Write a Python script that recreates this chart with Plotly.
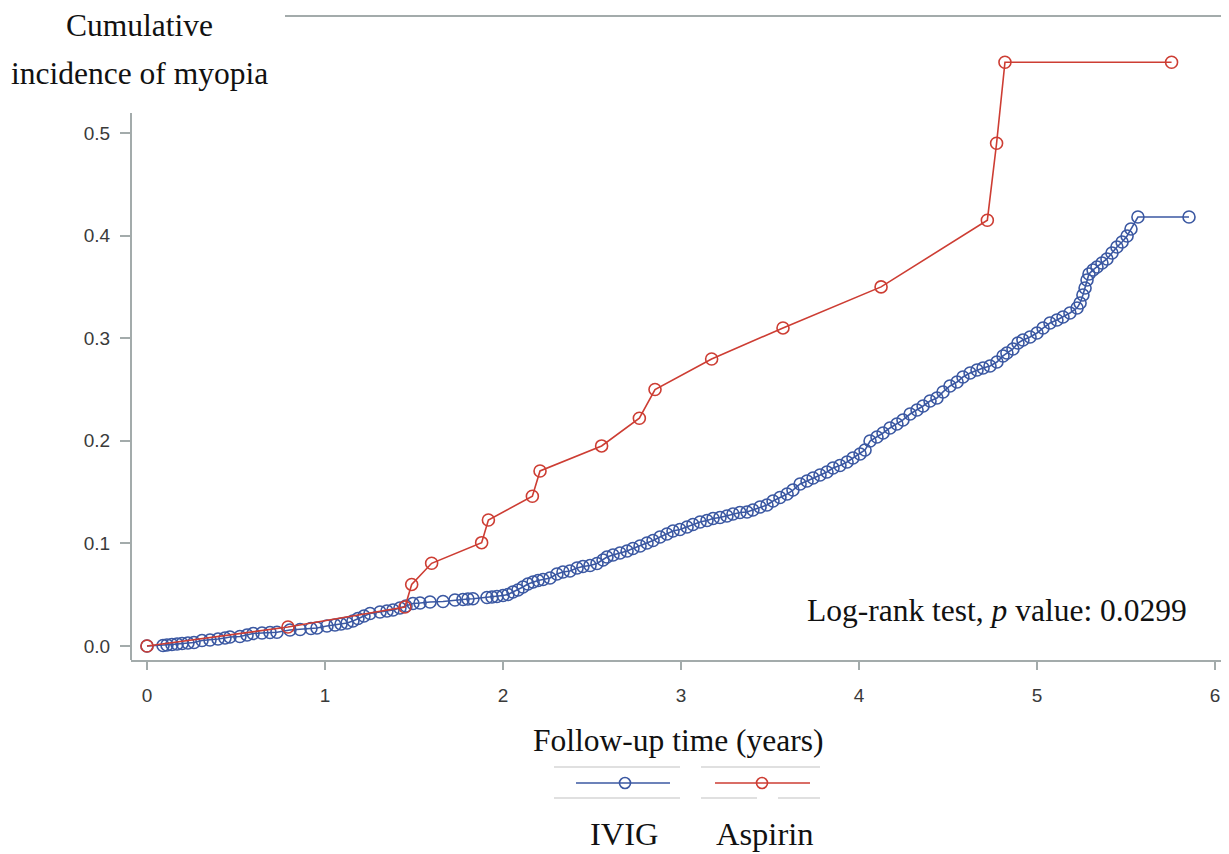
import plotly.graph_objects as go

# ---------------- data ----------------
ivig_time = [0.0, 0.090, 0.112, 0.140, 0.169, 0.197, 0.230, 0.264, 0.309, 0.354, 0.399,
             0.438, 0.466, 0.522, 0.562, 0.596, 0.646, 0.691, 0.730, 0.803, 0.860,
             0.921, 0.955, 1.011, 1.056, 1.090, 1.124, 1.157, 1.185, 1.219, 1.253,
             1.309, 1.348, 1.382, 1.421, 1.455, 1.494, 1.534, 1.590, 1.663, 1.730,
             1.775, 1.803, 1.831, 1.910, 1.938, 1.966, 2.000, 2.028, 2.056, 2.084,
             2.112, 2.140, 2.169, 2.197, 2.225, 2.264, 2.303, 2.337, 2.376, 2.416,
             2.449, 2.489, 2.528, 2.562, 2.584, 2.618, 2.657, 2.697, 2.730, 2.770,
             2.809, 2.843, 2.882, 2.921, 2.955, 2.994, 3.034, 3.067, 3.107, 3.146,
             3.180, 3.219, 3.258, 3.292, 3.331, 3.371, 3.404, 3.444, 3.483, 3.517,
             3.556, 3.596, 3.629, 3.669, 3.708, 3.742, 3.781, 3.820, 3.854, 3.893,
             3.933, 3.966, 4.006, 4.034, 4.062, 4.101, 4.135, 4.174, 4.213, 4.247,
             4.287, 4.326, 4.360, 4.399, 4.438, 4.472, 4.511, 4.551, 4.584, 4.624,
             4.663, 4.697, 4.736, 4.775, 4.809, 4.831, 4.865, 4.893, 4.921, 4.961,
             5.000, 5.034, 5.073, 5.112, 5.146, 5.185, 5.225, 5.242, 5.258, 5.270,
             5.281, 5.292, 5.315, 5.337, 5.365, 5.393, 5.421, 5.449, 5.478, 5.506,
             5.528, 5.567, 5.854]
ivig_cuminc = [0.0, 0.0005, 0.0010, 0.0015, 0.0019, 0.0024, 0.0029, 0.0034, 0.0054, 0.0058, 0.0068,
               0.0078, 0.0088, 0.0093, 0.0107, 0.0122, 0.0127, 0.0132, 0.0134, 0.0156, 0.0161,
               0.0171, 0.0175, 0.0195, 0.0205, 0.0214, 0.0224, 0.0244, 0.0268, 0.0292, 0.0317,
               0.0331, 0.0341, 0.0351, 0.0370, 0.0390, 0.0414, 0.0419, 0.0429, 0.0434, 0.0448,
               0.0453, 0.0458, 0.0460, 0.0473, 0.0478, 0.0482, 0.0492, 0.0502, 0.0526, 0.0546,
               0.0575, 0.0604, 0.0624, 0.0638, 0.0648, 0.0663, 0.0702, 0.0721, 0.0731, 0.0760,
               0.0775, 0.0785, 0.0804, 0.0838, 0.0867, 0.0887, 0.0906, 0.0926, 0.0950, 0.0975,
               0.1004, 0.1028, 0.1062, 0.1092, 0.1121, 0.1135, 0.1160, 0.1184, 0.1209, 0.1223,
               0.1243, 0.1252, 0.1267, 0.1287, 0.1301, 0.1306, 0.1326, 0.1355, 0.1374, 0.1413,
               0.1447, 0.1481, 0.1520, 0.1579, 0.1608, 0.1637, 0.1667, 0.1696, 0.1735, 0.1759,
               0.1793, 0.1832, 0.1871, 0.1910, 0.1998, 0.2037, 0.2076, 0.2125, 0.2164, 0.2203,
               0.2261, 0.2300, 0.2339, 0.2388, 0.2417, 0.2476, 0.2534, 0.2573, 0.2622, 0.2661,
               0.2690, 0.2710, 0.2729, 0.2768, 0.2827, 0.2856, 0.2895, 0.2953, 0.2982, 0.3012,
               0.3051, 0.3099, 0.3148, 0.3177, 0.3207, 0.3246, 0.3294, 0.3343, 0.3421, 0.3489,
               0.3567, 0.3626, 0.3665, 0.3694, 0.3733, 0.3772, 0.3830, 0.3889, 0.3938, 0.3996,
               0.4064, 0.4181, 0.4181]

aspirin_time = [0.0, 0.792, 1.449, 1.487, 1.599, 1.880, 1.918, 2.165, 2.208, 2.554,
                2.766, 2.854, 3.172, 3.573, 4.124, 4.721, 4.773, 4.820, 5.756]
aspirin_cuminc = [0.0, 0.0185, 0.038, 0.060, 0.0806, 0.1007, 0.1228, 0.146, 0.1706, 0.195,
                  0.222, 0.250, 0.2797, 0.310, 0.350, 0.415, 0.490, 0.569, 0.569]

x_ticks = [0, 1, 2, 3, 4, 5, 6]
y_ticks = [0.0, 0.1, 0.2, 0.3, 0.4, 0.5]
group_names = ["IVIG", "Aspirin"]

# ---------------- style / layout ----------------
BLUE = "#3b58a2"
RED = "#cd3d33"
AXIS = "#a3abab"
OFF = 8                       # browser body margin
W, H = 1229 - OFF, 854 - OFF  # figure size
# plot area in target-page pixels: x 131..1229, y 16..660
L, T = 131 - OFF, 16 - OFF
R = 0
B = H - (660 - OFF)
PW, PH = W - L - R, H - T - B


def P(px, py):
    """target page pixel -> paper coordinates"""
    fx, fy = px - OFF, py - OFF
    return (fx - L) / PW, (H - B - fy) / PH


fig = go.Figure()
for name, xs, ys, col in [(group_names[0], ivig_time, ivig_cuminc, BLUE),
                          (group_names[1], aspirin_time, aspirin_cuminc, RED)]:
    fig.add_trace(go.Scatter(
        x=xs, y=ys, name=name, mode="lines+markers",
        line=dict(color=col, width=1.6),
        marker=dict(symbol="circle-open", size=12, color=col, line=dict(width=1.6, color=col)),
        showlegend=False, cliponaxis=False))

# axis scale: x=0 at page px 147, x=6 at 1215 ; y=0 at page py 646, y=0.5 at 133
x0_px, x1_px = 147, 1215
y0_px, y5_px = 646, 133
xs_per = (x1_px - x0_px) / 6
ys_per = (y0_px - y5_px) / 0.5
xr = [(131 - x0_px) / xs_per, (1229 - x0_px) / xs_per]
yr = [(y0_px - 660) / ys_per, (y0_px - 16) / ys_per]

tickfont = dict(family="Liberation Sans, Arial, sans-serif", size=19, color="#3a3a3a")
fig.update_xaxes(range=xr, tickvals=x_ticks, ticks="outside", ticklen=8, tickwidth=1.5,
                 tickcolor=AXIS, showline=True, linecolor=AXIS, linewidth=2, showgrid=False,
                 zeroline=False, tickfont=tickfont, ticklabelstandoff=9)
fig.update_yaxes(range=yr, tickvals=y_ticks, tickformat=".1f", ticks="outside", ticklen=10,
                 tickwidth=1.5, tickcolor=AXIS, showline=False, showgrid=False, zeroline=False,
                 tickfont=tickfont, ticklabelstandoff=6)

shapes = []


def seg(xa, ya, xb, yb, col, w):
    a = P(xa, ya); b = P(xb, yb)
    shapes.append(dict(type="line", xref="paper", yref="paper", x0=a[0], x1=b[0],
                       y0=a[1], y1=b[1], line=dict(color=col, width=w)))


# left axis line (partial) and top frame line
seg(131, 113, 131, 660, AXIS, 2)
seg(285, 16, 1229, 16, AXIS, 2)
# legend frame pieces
LG = "#d6d6d6"
for (xa, xb, yy) in [(554, 680, 767), (701, 820, 767), (554, 680, 798), (701, 757, 798), (778, 820, 798)]:
    seg(xa, yy, xb, yy, LG, 1.5)
# legend symbols
for (xa, xb, xm, col) in [(576, 670, 625, BLUE), (715, 810, 762, RED)]:
    seg(xa, 783, xb, 783, col, 1.6)
    m = P(xm, 783)
    shapes.append(dict(type="circle", xref="paper", yref="paper", xsizemode="pixel", ysizemode="pixel",
                       xanchor=m[0], yanchor=m[1], x0=-5.5, x1=5.5, y0=-5.5, y1=5.5,
                       line=dict(color=col, width=1.6), fillcolor="rgba(0,0,0,0)"))

serif = "Liberation Serif, Times New Roman, serif"
ann = []


def text(s, px, py, size, xanchor="center"):
    p = P(px, py)
    ann.append(dict(text=s, x=p[0], y=p[1], xref="paper", yref="paper", showarrow=False,
                    xanchor=xanchor, yanchor="middle", borderpad=0,
                    font=dict(family=serif, size=size, color="#111111")))


text("Cumulative", 139, 25, 31.5)
text("incidence of myopia", 139, 73, 31.5)
text("Follow-up time (years)", 678, 740, 31.5)
text("Log-rank test, <i>p</i> value: 0.0299", 1188, 610, 31.5, xanchor="right")
text(group_names[0], 624, 834, 32.5)
text(group_names[1], 765, 834, 32.5)

fig.update_layout(width=W, height=H, margin=dict(l=L, r=R, t=T, b=B),
                  plot_bgcolor="white", paper_bgcolor="white",
                  shapes=shapes, annotations=ann, showlegend=False)

fig.write_html("out.html")
